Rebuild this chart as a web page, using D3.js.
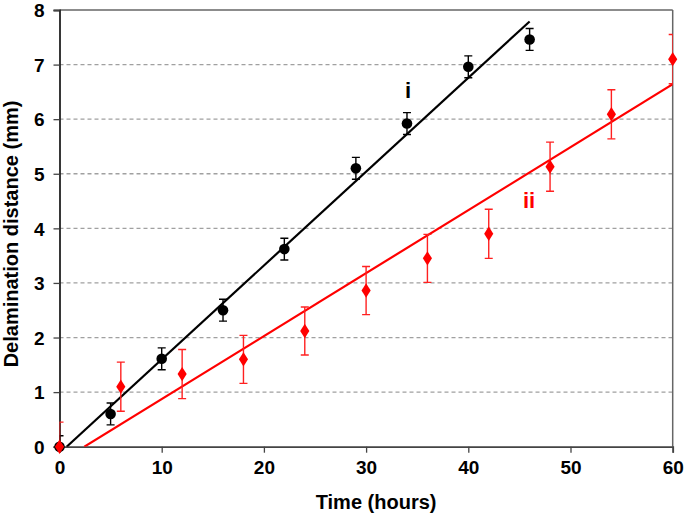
<!DOCTYPE html>
<html><head><meta charset="utf-8">
<script src="https://cdn.jsdelivr.net/npm/d3@7"></script>
<style>body{margin:0;background:#fff}svg{display:block}text{font-family:"Liberation Sans",Arial,sans-serif;font-weight:bold}</style>
</head><body>
<svg id="c" width="685" height="515"></svg>
<script>
// Series i (black)
const timeI = [0, 5, 10, 16, 22, 29, 34, 40, 46];
const distI = [0, 0.6, 1.61, 2.5, 3.62, 5.1, 5.92, 6.96, 7.46];
const errI  = [0.2, 0.2, 0.2, 0.2, 0.2, 0.2, 0.2, 0.2, 0.2];
// Series ii (red)
const timeII = [0, 6, 12, 18, 24, 30, 36, 42, 48, 54, 60];
const distII = [0, 1.1, 1.33, 1.6, 2.12, 2.86, 3.45, 3.9, 5.13, 6.09, 7.1];
const errII  = [0.45, 0.45, 0.45, 0.44, 0.44, 0.44, 0.44, 0.45, 0.45, 0.45, 0.45];
// Fit lines [x0, y0, x1, y1]
const fitI  = [[0.7, 0], [46, 7.79]];
const fitII = [[2.43, 0], [60, 6.64]];
const xTicks = [0, 10, 20, 30, 40, 50, 60];
const yTicks = [0, 1, 2, 3, 4, 5, 6, 7, 8];
const xTitle = "Time (hours)";
const yTitle = "Delamination distance (mm)";

const svg = d3.select("#c");
const L = 59.5, R = 672.7, T = 10, B = 446.7;
const x = d3.scaleLinear().domain([0, 60]).range([L, R]);
const y = d3.scaleLinear().domain([0, 8]).range([B, T]);

svg.append("defs").append("clipPath").attr("id","clip")
  .append("rect").attr("x",L).attr("y",T).attr("width",R-L).attr("height",B-T);

// grid
svg.append("g").selectAll("line").data(yTicks.filter(d=>d>0&&d<8)).join("line")
  .attr("x1",L).attr("x2",R).attr("y1",d=>y(d)).attr("y2",d=>y(d))
  .attr("stroke","#a0a0a0").attr("stroke-width",1.3).attr("stroke-dasharray","4,3");

// frame top/right
svg.append("line").attr("x1",L).attr("x2",R).attr("y1",T).attr("y2",T).attr("stroke","#666").attr("stroke-width",1.5);
svg.append("line").attr("x1",R).attr("x2",R).attr("y1",T).attr("y2",B).attr("stroke","#666").attr("stroke-width",1.5);

// axes
const xAxis = svg.append("g").attr("transform",`translate(0,${B})`)
  .call(d3.axisBottom(x).tickValues(xTicks).tickSize(6).tickPadding(8));
const yAxis = svg.append("g").attr("transform",`translate(${L},0)`)
  .call(d3.axisLeft(y).tickValues(yTicks).tickSize(6).tickPadding(9));
[xAxis, yAxis].forEach(a=>{
  a.select(".domain").attr("stroke","#444").attr("stroke-width",1.8);
  a.selectAll(".tick line").attr("stroke","#444").attr("stroke-width",1.3);
  a.selectAll(".tick text").attr("fill","#000").style("font-size","19px").style("font-family","'Liberation Sans',Arial,sans-serif").style("font-weight","bold");
});
yAxis.select(".domain").attr("stroke","#222");
yAxis.selectAll(".tick text").attr("dy","0.35em");

const plot = svg.append("g");
const clipped = plot.append("g").attr("clip-path","url(#clip)");

// fit lines
const line = d3.line().x(d=>x(d[0])).y(d=>y(d[1]));
clipped.append("path").attr("d",line(fitII)).attr("stroke","#ff0000").attr("stroke-width",2.2).attr("fill","none");
clipped.append("path").attr("d",line(fitI)).attr("stroke","#000").attr("stroke-width",2.2).attr("fill","none");

function errBars(g, ts, ds, es, color){
  const cap = 4;
  const data = ts.map((t,i)=>({t, d:ds[i], e:es[i]}));
  const gg = g.append("g").attr("stroke",color).attr("stroke-width",1.4);
  gg.selectAll("line.v").data(data).join("line").attr("class","v")
    .attr("x1",d=>x(d.t)).attr("x2",d=>x(d.t)).attr("y1",d=>y(d.d-d.e)).attr("y2",d=>y(d.d+d.e));
  gg.selectAll("line.t").data(data).join("line").attr("class","t")
    .attr("x1",d=>x(d.t)-cap).attr("x2",d=>x(d.t)+cap).attr("y1",d=>y(d.d+d.e)).attr("y2",d=>y(d.d+d.e));
  gg.selectAll("line.b").data(data).join("line").attr("class","b")
    .attr("x1",d=>x(d.t)-cap).attr("x2",d=>x(d.t)+cap).attr("y1",d=>y(d.d-d.e)).attr("y2",d=>y(d.d-d.e));
}
errBars(clipped, timeI, distI, errI, "#000");
errBars(clipped, timeII, distII, errII, "#ff2020");

// markers
plot.append("g").selectAll("circle").data(timeI.map((t,i)=>[t,distI[i]])).join("circle")
  .attr("cx",d=>x(d[0])).attr("cy",d=>y(d[1])).attr("r",5.3).attr("fill","#000");
const diamond = d3.symbol().type(d3.symbolDiamond).size(60);
plot.append("g").selectAll("path").data(timeII.map((t,i)=>[t,distII[i]])).join("path")
  .attr("d",diamond).attr("transform",d=>`translate(${x(d[0])},${y(d[1])}) scale(1.1,1)`).attr("fill","#ff0000");

// series labels
svg.append("text").attr("x",408).attr("y",98).attr("text-anchor","middle").style("font-size","22px").attr("fill","#000").text("i");
svg.append("text").attr("x",529).attr("y",208).attr("text-anchor","middle").style("font-size","22px").attr("fill","#ff0000").text("ii");

// titles
svg.append("text").attr("x",(L+R)/2+10).attr("y",509).attr("text-anchor","middle").style("font-size","20px").attr("fill","#000").text(xTitle);
svg.append("text").attr("transform",`translate(18,234) rotate(-90)`).attr("text-anchor","middle").style("font-size","20px").attr("fill","#000").text(yTitle);
</script>
</body></html>
